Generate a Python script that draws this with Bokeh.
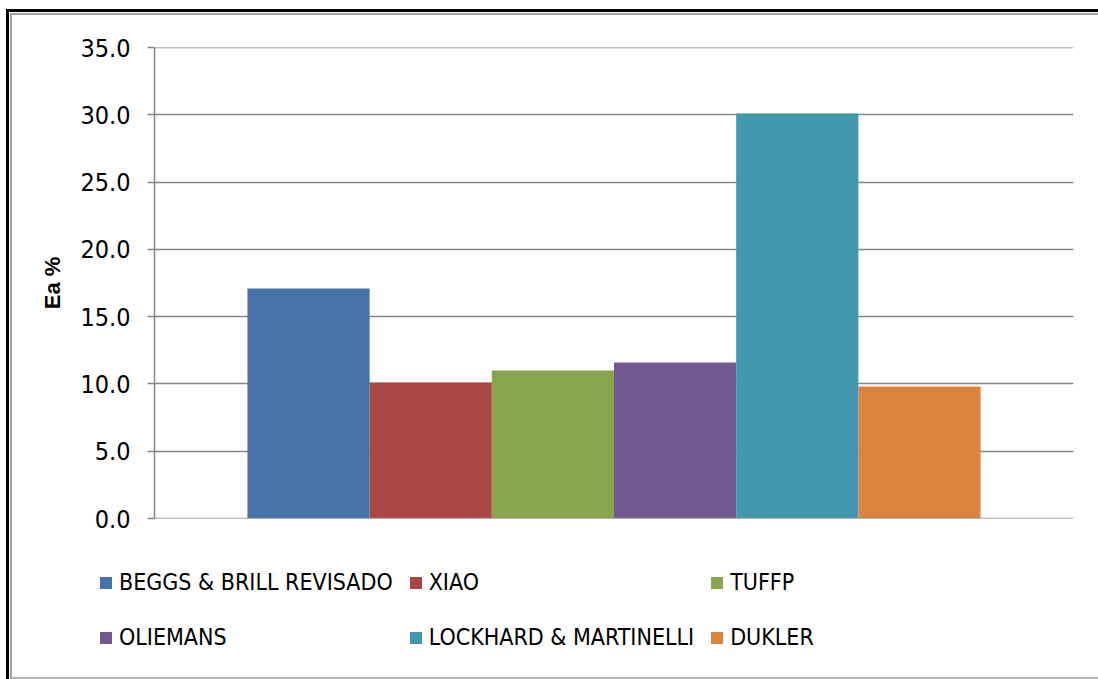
from bokeh.plotting import figure
from bokeh.layouts import column
from bokeh.models import (FactorRange, Range1d, FixedTicker, NumeralTickFormatter,
                          Legend, LegendItem, Span, ColumnDataSource, InlineStyleSheet)
from bokeh.embed import file_html
from bokeh.resources import INLINE

# Mean absolute error per correlation
methods = ["BEGGS & BRILL REVISADO", "XIAO", "TUFFP", "OLIEMANS",
           "LOCKHARD & MARTINELLI", "DUKLER"]
ea_pct = [17.1, 10.1, 11.0, 11.6, 30.1, 9.8]
bar_colors = ["#4572A7", "#AA4643", "#89A54E", "#71588F", "#4198AF", "#DB843D"]
y_ticks = [0, 5, 10, 15, 20, 25, 30, 35]

NARROW = "DejaVu Sans Condensed"
GRID = "#868686"

src = ColumnDataSource(dict(method=methods, ea=ea_pct, color=bar_colors))

# ---- bar chart -------------------------------------------------------------
p = figure(width=1098, height=560,
           x_range=FactorRange(factors=methods, range_padding=0.2535, factor_padding=0),
           y_range=Range1d(0, 35), x_axis_location=None,
           output_backend="svg", toolbar_location=None,
           min_border_left=154, min_border_right=25,
           min_border_top=47, min_border_bottom=42)
p.frame_align = False
p.outline_line_color = None
p.background_fill_color = "white"
p.border_fill_color = None

p.xgrid.visible = False
p.ygrid.grid_line_color = GRID
p.ygrid.grid_line_width = 1.5
for edge in (0, 35):
    p.add_layout(Span(location=edge, dimension="width", line_color=GRID, line_width=1.5))

yax = p.yaxis[0]
yax.ticker = FixedTicker(ticks=y_ticks)
yax.formatter = NumeralTickFormatter(format="0.0")
yax.axis_line_color = GRID
yax.axis_line_width = 1.5
yax.major_tick_line_color = GRID
yax.major_tick_line_width = 1.5
yax.major_tick_out = 7
yax.major_tick_in = 0
yax.minor_tick_line_color = None
yax.major_label_standoff = 17
yax.major_label_text_font = NARROW
yax.major_label_text_font_size = "25px"
yax.major_label_text_color = "black"
yax.axis_label = "Ea %"
yax.axis_label_text_font = "Liberation Sans"
yax.axis_label_text_font_style = "bold"
yax.axis_label_text_font_size = "22px"
yax.axis_label_text_color = "black"
yax.axis_label_standoff = 12

p.vbar(x="method", top="ea", width=1.0, bottom=0, color="color",
       line_color=None, source=src)

# ---- legend strip under the chart -----------------------------------------
lg = figure(width=1098, height=119,
            x_range=FactorRange(factors=methods), y_range=Range1d(100, 101),
            x_axis_location=None, y_axis_location=None,
            output_backend="svg", toolbar_location=None,
            min_border=0)
lg.frame_align = False
lg.outline_line_color = None
lg.background_fill_color = None
lg.border_fill_color = None
lg.grid.visible = False
# same bars, kept outside the strip's visible range; they only feed the legend
key = lg.vbar(x="method", top="ea", width=1.0, bottom=0, color="color",
              line_color=None, source=src)

items = [LegendItem(label=m, renderers=[key], index=i) for i, m in enumerate(methods)]
legend = Legend(items=items, location=(98, 22), orientation="horizontal", ncols=3,
                glyph_width=15, glyph_height=15, label_standoff=6,
                label_height=40, spacing=15, padding=0, margin=0,
                border_line_color=None, background_fill_alpha=0,
                label_text_font=NARROW, label_text_font_size="23px",
                label_text_color="black")
lg.add_layout(legend, "center")

# Page frame: dark outer rule on top/left, grey inner rule, grey base line
layout = column(p, lg, spacing=0)
layout.stylesheets = [InlineStyleSheet(css=(
    ":host { background: white; }"
    ":host::before { content: ''; position: absolute; left: 6px; top: 9px; right: 0; bottom: 0;"
    " border-style: solid; border-color: black; border-width: 3px 0 0 3px;"
    " pointer-events: none; }"
    ":host::after { content: ''; position: absolute; left: 10px; top: 13px; right: 0; bottom: 0;"
    " border-style: solid; border-color: #a0a0a0 transparent #b4b4b4 #a0a0a0;"
    " border-width: 2px 0 2px 2px; pointer-events: none; }"))]

open("out.html", "w").write(file_html(layout, INLINE))
